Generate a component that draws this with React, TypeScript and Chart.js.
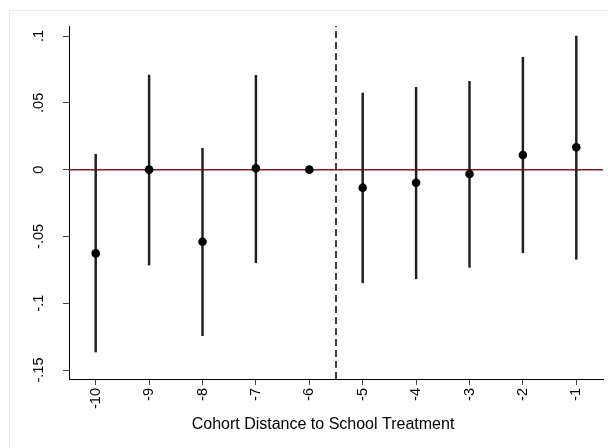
import { useEffect, useRef } from 'react';
import { Chart, registerables } from 'chart.js';

Chart.register(...registerables);

// Event-study coefficients by cohort distance (cohort -6 is the omitted reference)
const cohorts = [-10, -9, -8, -7, -6, -5, -4, -3, -2, -1];
const estimates = [-0.0627, 0.0, -0.054, 0.001, 0.0, -0.0135, -0.0098, -0.0033, 0.0109, 0.0167];
const ciLower = [-0.1365, -0.0714, -0.1243, -0.0697, null, -0.0847, -0.0817, -0.0731, -0.0622, -0.0671];
const ciUpper = [0.0115, 0.0708, 0.0159, 0.0706, null, 0.0573, 0.0616, 0.0661, 0.0841, 0.1];

const xTickLabels = ['-10', '-9', '-8', '-7', '-6', '-5', '-4', '-3', '-2', '-1'];
const yTickValues = [-0.15, -0.1, -0.05, 0, 0.05, 0.1];
const yTickLabels = ['-.15', '-.1', '-.05', '0', '.05', '.1'];

const xMin = -10.5;
const xMax = -0.5;
const yMin = -0.1567;
const yMax = 0.1075;
const treatmentCutoff = -5.5;
const xTitle = 'Cohort Distance to School Treatment';

const FONT = '"Liberation Sans", Arial, Helvetica, sans-serif';

const framePlugin = {
  id: 'graphFrame',
  beforeDraw(chart: any) {
    const { ctx, width, height } = chart;
    ctx.save();
    ctx.fillStyle = '#ffffff';
    ctx.fillRect(0, 0, width, height);
    ctx.strokeStyle = '#e2ecec';
    ctx.lineWidth = 1;
    ctx.strokeRect(9.5, 10.5, width + 20, height + 20);
    ctx.restore();
  },
};

const xTitlePlugin = {
  id: 'xAxisTitle',
  afterDraw(chart: any) {
    const { ctx } = chart;
    ctx.save();
    ctx.font = `16px ${FONT}`;
    ctx.fillStyle = '#000000';
    ctx.textAlign = 'center';
    ctx.textBaseline = 'middle';
    ctx.fillText(xTitle, 323, 425);
    ctx.restore();
  },
};

export default function App() {
  const canvasRef = useRef<HTMLCanvasElement | null>(null);

  useEffect(() => {
    if (!canvasRef.current) return;

    const points = cohorts.map((x, i) => ({ x, y: estimates[i] }));
    const intervals = cohorts
      .map((x, i) => ({ x, lo: ciLower[i], hi: ciUpper[i] }))
      .filter((d) => d.lo !== null && d.hi !== null)
      .map((d) => ({ x: d.x, y: [d.lo as number, d.hi as number] }));

    const chart = new Chart(canvasRef.current, {
      type: 'scatter',
      data: {
        datasets: [
          {
            type: 'line',
            label: 'zero',
            data: [
              { x: xMin, y: 0 },
              { x: xMax, y: 0 },
            ],
            borderColor: '#7a1c2c',
            borderWidth: 1.5,
            pointRadius: 0,
            order: 4,
          } as any,
          {
            type: 'line',
            label: 'cutoff',
            data: [
              { x: treatmentCutoff, y: yMin },
              { x: treatmentCutoff, y: yMax },
            ],
            borderColor: '#000000',
            borderWidth: 1.5,
            borderDash: [7, 4],
            pointRadius: 0,
            order: 3,
          } as any,
          {
            type: 'bar',
            label: 'ci',
            data: intervals,
            backgroundColor: '#1e1e1e',
            borderWidth: 0,
            barThickness: 1.8,
            order: 2,
          } as any,
          {
            type: 'scatter',
            label: 'estimate',
            data: points,
            backgroundColor: '#000000',
            borderWidth: 0,
            pointRadius: 4.3,
            order: 1,
          } as any,
        ],
      },
      options: {
        responsive: false,
        animation: false,
        devicePixelRatio: 1,
        layout: { padding: { top: 26, right: 5, left: 0, bottom: 0 } },
        plugins: {
          legend: { display: false },
          tooltip: { enabled: false },
          title: { display: false },
        },
        scales: {
          x: {
            type: 'linear',
            min: xMin,
            max: xMax,
            offset: false,
            afterBuildTicks: (s: any) => {
              s.ticks = cohorts.map((value) => ({ value }));
            },
            afterFit: (s: any) => {
              s.height = 69;
              s.paddingLeft = 0;
              s.paddingRight = 0;
            },
            ticks: {
              autoSkip: false,
              minRotation: 90,
              maxRotation: 90,
              padding: 3,
              color: '#000000',
              font: { family: FONT, size: 14.5 },
              callback: (_v: any, i: number) => xTickLabels[i],
            },
            grid: {
              offset: false,
              drawOnChartArea: false,
              drawTicks: true,
              tickLength: 6,
              color: '#444444',
            },
            border: { display: true, color: '#000000', width: 1 },
          },
          y: {
            type: 'linear',
            min: yMin,
            max: yMax,
            afterBuildTicks: (s: any) => {
              s.ticks = yTickValues.map((value) => ({ value }));
            },
            afterFit: (s: any) => {
              s.width = 69;
              s.paddingTop = 0;
              s.paddingBottom = 0;
            },
            ticks: {
              minRotation: 90,
              maxRotation: 90,
              crossAlign: 'center',
              padding: 12,
              color: '#000000',
              font: { family: FONT, size: 14.5 },
              callback: (_v: any, i: number) => yTickLabels[i],
            },
            grid: {
              drawOnChartArea: false,
              drawTicks: true,
              tickLength: 6,
              color: '#444444',
            },
            border: { display: true, color: '#000000', width: 1 },
          },
        },
      },
      plugins: [framePlugin, xTitlePlugin],
    });

    return () => chart.destroy();
  }, []);

  return (
    <div style={{ position: 'absolute', left: 0, top: 0, width: 608, height: 448 }}>
      <canvas ref={canvasRef} width={608} height={448} />
    </div>
  );
}
